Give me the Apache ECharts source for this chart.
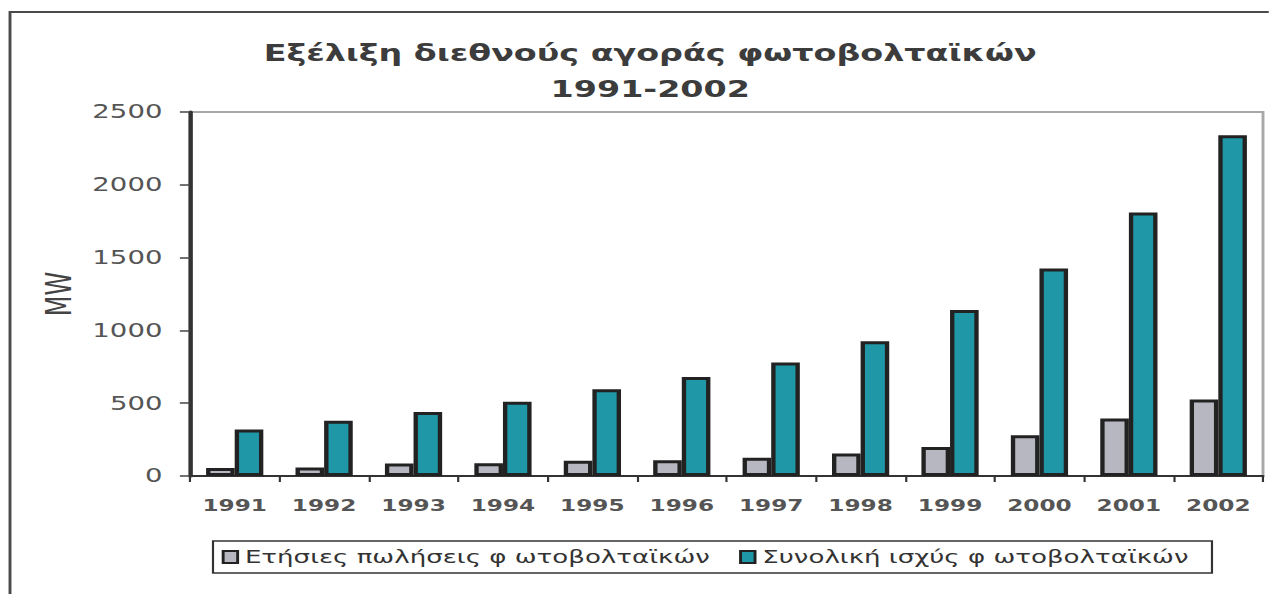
<!DOCTYPE html>
<html>
<head>
<meta charset="utf-8">
<title>Εξέλιξη διεθνούς αγοράς φωτοβολταϊκών 1991-2002</title>
<script src="https://cdn.jsdelivr.net/npm/echarts@6/dist/echarts.min.js"></script>
<style>
  html, body { margin: 0; padding: 0; background: #fff; overflow: hidden; }
  #wrap { width: 1269px; height: 594px; overflow: hidden; }
  #chart { height: 594px; transform-origin: 0 0; }
</style>
</head>
<body>
<div id="wrap"><div id="chart"></div></div>
<script>
// Years on the category axis
const years = ['1991','1992','1993','1994','1995','1996','1997','1998','1999','2000','2001','2002'];
// Annual PV sales (MW)
const annualSales = [55, 58, 85, 88, 105, 108, 125, 155, 200, 280, 395, 525];
// Total installed PV power (MW)
const totalPower = [320, 380, 440, 510, 595, 680, 780, 925, 1140, 1425, 1810, 2340];
// Value axis ticks
const yTicks = [0, 500, 1000, 1500, 2000, 2500];

const seriesNames = ['Ετήσιες πωλήσεις φ ωτοβολταϊκών', 'Συνολική ισχύς φ ωτοβολταϊκών'];
const titleLines = ['Εξέλιξη διεθνούς αγοράς φωτοβολταϊκών', '1991-2002'];

// The chart is laid out in a narrower frame and widened horizontally,
// giving the broad lettering and proportions of the printed figure.
const SX = 1.45;
const W = 1269 / SX;
const px = x => x / SX;

const el = document.getElementById('chart');
el.style.width = W + 'px';
el.style.transform = 'scaleX(' + SX + ')';

const chart = echarts.init(el, null, { renderer: 'svg', width: W, height: 594 });

const font = 'DejaVu Sans, Verdana, sans-serif';

chart.setOption({
  backgroundColor: '#ffffff',
  animation: false,
  title: {
    text: titleLines.join('\n'),
    left: px(643),
    textAlign: 'center',
    top: 30,
    textStyle: {
      fontFamily: font,
      fontSize: 23,
      fontWeight: 'bold',
      color: '#3c3c3c',
      lineHeight: 36
    }
  },
  legend: {
    data: seriesNames,
    left: px(213),
    top: 541,
    orient: 'horizontal',
    padding: [7, 16, 7, 6],
    itemGap: 20,
    itemWidth: 10,
    itemHeight: 12,
    borderColor: '#333',
    borderWidth: 1.5,
    borderRadius: 0,
    icon: 'rect',
    textStyle: { fontFamily: font, fontSize: 18, color: '#333' }
  },
  grid: {
    left: px(190),
    right: W - px(1263),
    top: 112,
    bottom: 594 - 476,
    show: true,
    borderColor: '#a8a8a8',
    borderWidth: 2,
    containLabel: false
  },
  xAxis: {
    type: 'category',
    data: years,
    boundaryGap: true,
    axisLine: { lineStyle: { color: '#333', width: 2 } },
    axisTick: { show: true, alignWithLabel: false, length: 6, lineStyle: { color: '#333', width: 1.5 } },
    axisLabel: { fontFamily: font, fontSize: 16, fontWeight: 'bold', color: '#555', margin: 22 },
    splitLine: { show: false }
  },
  yAxis: {
    type: 'value',
    min: yTicks[0],
    max: yTicks[yTicks.length - 1],
    interval: yTicks[1] - yTicks[0],
    name: 'MW',
    nameLocation: 'middle',
    nameRotate: 90,
    nameGap: 76,
    nameTextStyle: { fontFamily: font, fontSize: 24, color: '#444' },
    axisLine: { show: true, lineStyle: { color: '#333', width: 3 } },
    axisTick: { show: true, length: 7, lineStyle: { color: '#444', width: 1.5 } },
    axisLabel: {
      fontFamily: font, fontSize: 19, color: '#555', margin: 19,
      formatter: v => String(v)
    },
    splitLine: { show: false }
  },
  series: [
    {
      name: seriesNames[0],
      type: 'bar',
      data: annualSales,
      barGap: '0%',
      barCategoryGap: '36%',
      itemStyle: { color: '#b6b7c1', borderColor: '#222', borderWidth: 3 }
    },
    {
      name: seriesNames[1],
      type: 'bar',
      data: totalPower,
      barGap: '0%',
      barCategoryGap: '36%',
      itemStyle: { color: '#1f97a6', borderColor: '#222', borderWidth: 3 }
    }
  ],
  graphic: [
    {
      // frame around the whole figure (left and top edges are in view)
      type: 'rect',
      silent: true,
      shape: { x: px(10), y: 12, width: W, height: 700 },
      style: { fill: 'none', stroke: '#4a4a4a', lineWidth: 2 }
    }
  ]
});
</script>
</body>
</html>
